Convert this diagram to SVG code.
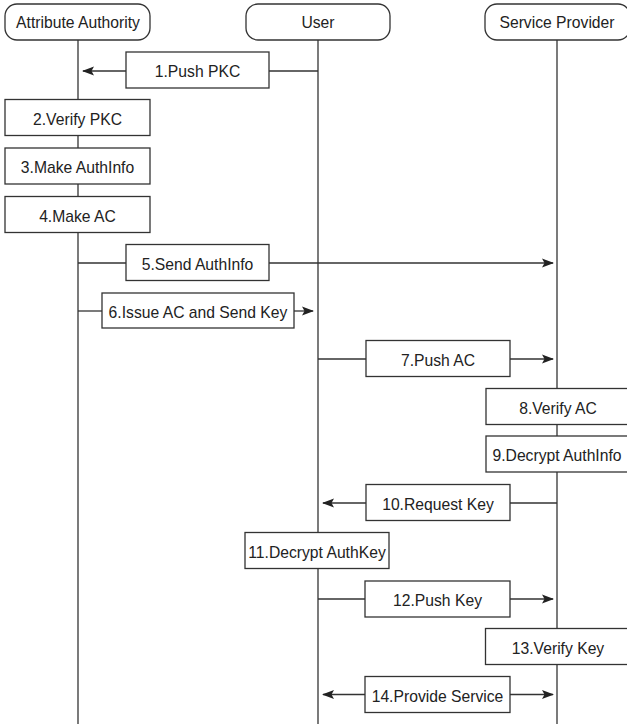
<svg xmlns="http://www.w3.org/2000/svg" width="627" height="724" viewBox="0 0 627 724">
<style>
.hd{fill:#fff;stroke:#333;stroke-width:1.3}
.bx{fill:#fff;stroke:#333;stroke-width:1.3}
.ln{stroke:#333;stroke-width:1.3;fill:none}
.t{font-family:"Liberation Sans",Arial,sans-serif;font-size:15.7px;fill:#222;text-anchor:middle}
</style>
<defs>
<marker id="ah" viewBox="0 0 12 10" refX="11" refY="5" markerWidth="12" markerHeight="10" markerUnits="userSpaceOnUse" orient="auto-start-reverse">
<path d="M0,0.5 L12,5 L0,9.5 L2.5,5 Z" fill="#222"/>
</marker>
</defs>
<g id="lifelines">
<line class="ln" x1="78" y1="40" x2="78" y2="724"/>
<line class="ln" x1="318" y1="40" x2="318" y2="724"/>
<line class="ln" x1="557" y1="40" x2="557" y2="724"/>
</g>
<g id="aa"><rect class="hd" x="5" y="4" width="145" height="36" rx="12"/><text class="t" x="78" y="28">Attribute Authority</text></g>
<g id="user"><rect class="hd" x="246" y="4" width="144" height="36" rx="12"/><text class="t" x="318" y="28">User</text></g>
<g id="sp"><rect class="hd" x="485" y="4" width="145" height="36" rx="12"/><text class="t" x="557" y="28">Service Provider</text></g>
<g id="connectors">
<line class="ln" x1="318" y1="71" x2="269" y2="71"/>
<line class="ln" x1="126" y1="71" x2="83" y2="71" marker-end="url(#ah)"/>
<line class="ln" x1="78" y1="263" x2="126" y2="263"/>
<line class="ln" x1="269" y1="263" x2="553" y2="263" marker-end="url(#ah)"/>
<line class="ln" x1="78" y1="311" x2="102" y2="311"/>
<line class="ln" x1="294" y1="311" x2="313" y2="311" marker-end="url(#ah)"/>
<line class="ln" x1="318" y1="359" x2="366" y2="359"/>
<line class="ln" x1="510" y1="359" x2="553" y2="359" marker-end="url(#ah)"/>
<line class="ln" x1="557" y1="503" x2="510" y2="503"/>
<line class="ln" x1="366" y1="503" x2="323" y2="503" marker-end="url(#ah)"/>
<line class="ln" x1="318" y1="599" x2="365" y2="599"/>
<line class="ln" x1="510" y1="599" x2="553" y2="599" marker-end="url(#ah)"/>
<line class="ln" x1="365" y1="694.5" x2="323" y2="694.5" marker-end="url(#ah)"/>
<line class="ln" x1="510" y1="694.5" x2="553" y2="694.5" marker-end="url(#ah)"/>
</g>
<g id="s1"><rect class="bx" x="126" y="52" width="143" height="36"/><text class="t" x="197.5" y="77">1.Push PKC</text></g>
<g id="s2"><rect class="bx" x="5" y="99.5" width="145" height="36"/><text class="t" x="77.5" y="124.5">2.Verify PKC</text></g>
<g id="s3"><rect class="bx" x="5" y="148" width="145" height="36"/><text class="t" x="77.5" y="173">3.Make AuthInfo</text></g>
<g id="s4"><rect class="bx" x="5" y="196.5" width="145" height="36"/><text class="t" x="77.5" y="221.5">4.Make AC</text></g>
<g id="s5"><rect class="bx" x="126" y="244.5" width="143" height="36"/><text class="t" x="197.5" y="269.5">5.Send AuthInfo</text></g>
<g id="s6"><rect class="bx" x="102" y="293" width="192" height="35"/><text class="t" x="198" y="317.5">6.Issue AC and Send Key</text></g>
<g id="s7"><rect class="bx" x="366" y="340.5" width="144" height="36"/><text class="t" x="438" y="365.5">7.Push AC</text></g>
<g id="s8"><rect class="bx" x="486" y="388.5" width="144" height="36"/><text class="t" x="558" y="413.5">8.Verify AC</text></g>
<g id="s9"><rect class="bx" x="486" y="436" width="144" height="36"/><text class="t" x="557" y="461">9.Decrypt AuthInfo</text></g>
<g id="s10"><rect class="bx" x="366" y="484.5" width="144" height="36"/><text class="t" x="438" y="509.5">10.Request Key</text></g>
<g id="s11"><rect class="bx" x="245" y="532.5" width="144" height="36"/><text class="t" x="317" y="557.5">11.Decrypt AuthKey</text></g>
<g id="s12"><rect class="bx" x="365" y="581" width="145" height="36"/><text class="t" x="437.5" y="606">12.Push Key</text></g>
<g id="s13"><rect class="bx" x="485.5" y="628.5" width="144" height="36"/><text class="t" x="558" y="653.5">13.Verify Key</text></g>
<g id="s14"><rect class="bx" x="365" y="676.5" width="145" height="36"/><text class="t" x="437.5" y="701.5">14.Provide Service</text></g>
</svg>
